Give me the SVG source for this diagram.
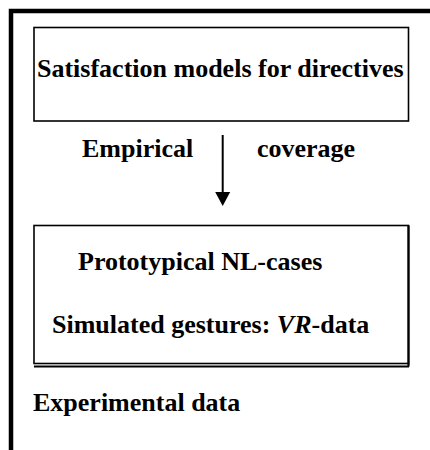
<svg xmlns="http://www.w3.org/2000/svg" width="430" height="450" viewBox="0 0 430 450">
<style>
.t{font-family:"Liberation Serif","Times New Roman",serif;font-weight:bold;font-size:26px;fill:#000}
.box{fill:#fff;stroke:#000;stroke-width:1.6}
</style>
<defs>
<marker id="ah" markerWidth="15" markerHeight="14" refX="7.5" refY="14" orient="auto" markerUnits="userSpaceOnUse" viewBox="0 0 15 14">
<path d="M0,0 L15,0 L7.5,14 Z" fill="#000"/>
</marker>
</defs>
<rect width="430" height="450" fill="#fff"/>
<g id="frame">
<path d="M11,450 L11,11 L430,11" fill="none" stroke="#000" stroke-width="4.5"/>
</g>
<g id="node-satisfaction">
<rect class="box" x="34" y="27.5" width="374.5" height="93.5"/>
<text class="t" x="37" y="77">Satisfaction models for directives</text>
</g>
<g id="connectors">
<line x1="222.7" y1="135" x2="222.7" y2="192" stroke="#000" stroke-width="2"/>
<path d="M215.2,192 L230.2,192 L222.7,206 Z" fill="#000"/>
</g>
<g id="labels">
<text class="t" x="82" y="157">Empirical</text>
<text class="t" x="257" y="157">coverage</text>
</g>
<g id="node-data">
<rect class="box" x="34" y="225.5" width="374.5" height="138"/>
<line x1="34" y1="366.5" x2="409" y2="366.5" stroke="#000" stroke-width="1.8"/>
<line x1="408.5" y1="225.5" x2="408.5" y2="366.5" stroke="#000" stroke-width="2.2"/>
<text class="t" x="78" y="270">Prototypical NL-cases</text>
<text class="t" x="52" y="332.5">Simulated gestures: <tspan font-style="italic">VR</tspan>-data</text>
</g>
<g id="caption">
<text class="t" x="33" y="411">Experimental data</text>
</g>
</svg>
